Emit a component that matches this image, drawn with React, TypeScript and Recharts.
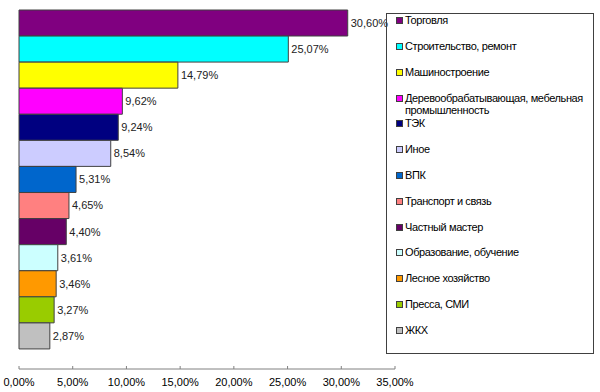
import React from 'react';
import { BarChart, Bar, XAxis, YAxis, Cell, LabelList } from 'recharts';

const categories = [
  'Торговля',
  'Строительство, ремонт',
  'Машиностроение',
  'Деревообрабатывающая, мебельная промышленность',
  'ТЭК',
  'Иное',
  'ВПК',
  'Транспорт и связь',
  'Частный мастер',
  'Образование, обучение',
  'Лесное хозяйство',
  'Пресса, СМИ',
  'ЖКХ',
];

const shares = [30.6, 25.07, 14.79, 9.62, 9.24, 8.54, 5.31, 4.65, 4.4, 3.61, 3.46, 3.27, 2.87];

const colors = [
  '#800080', '#00ffff', '#ffff00', '#ff00ff', '#000080', '#ccccff', '#0066cc',
  '#ff8080', '#660066', '#ccffff', '#ff9900', '#99cc00', '#c0c0c0',
];

const xTicks = [0, 5, 10, 15, 20, 25, 30, 35];

const data = categories.map((name, i) => ({ name, value: shares[i] }));

const fmt = (v: number) => v.toFixed(2).replace('.', ',') + '%';

const FONT = '"Liberation Sans", Arial, sans-serif';

export default function App() {
  return (
    <div style={{ position: 'absolute', left: 0, top: 0, width: 600, height: 392, background: '#fff', fontFamily: FONT }}>
      <BarChart
        width={600}
        height={392}
        layout="vertical"
        data={data}
        barCategoryGap={0}
        margin={{ top: 10, right: 205, bottom: 1, left: 19 }}
      >
        <XAxis
          type="number"
          domain={[0, 35]}
          ticks={xTicks}
          tickFormatter={fmt}
          height={22}
          tickSize={-3}
          tickMargin={12}
          stroke="#808080"
          tick={{ fill: '#000', fontSize: 11, fontFamily: FONT }}
          interval={0}
        />
        <YAxis type="category" dataKey="name" hide padding={{ top: 0, bottom: 20 }} />
        <Bar dataKey="value" stroke="#404040" strokeWidth={1} isAnimationActive={false}>
          {data.map((d, i) => (
            <Cell key={d.name} fill={colors[i]} />
          ))}
          <LabelList
            dataKey="value"
            position="right"
            offset={3}
            formatter={(v: any) => fmt(Number(v))}
            style={{ fill: '#222', fontSize: 11, fontFamily: FONT }}
          />
        </Bar>
      </BarChart>
      <div
        style={{
          position: 'absolute',
          left: 386,
          top: 13,
          width: 208,
          height: 341,
          border: '1px solid #404040',
          boxSizing: 'border-box',
        }}
      >
        {categories.map((name, i) => (
          <div
            key={name}
            style={{
              position: 'absolute',
              left: 9,
              top: 0.2 + i * 25.8,
              width: 196,
              fontSize: 11,
              lineHeight: '12px',
              letterSpacing: '-0.4px',
              color: '#000',
            }}
          >
            <span
              style={{
                position: 'absolute',
                left: 0,
                top: 3,
                width: 5,
                height: 5,
                background: colors[i],
                border: '1px solid #404040',
              }}
            />
            <div style={{ marginLeft: 9, width: 186 }}>{name}</div>
          </div>
        ))}
      </div>
    </div>
  );
}
